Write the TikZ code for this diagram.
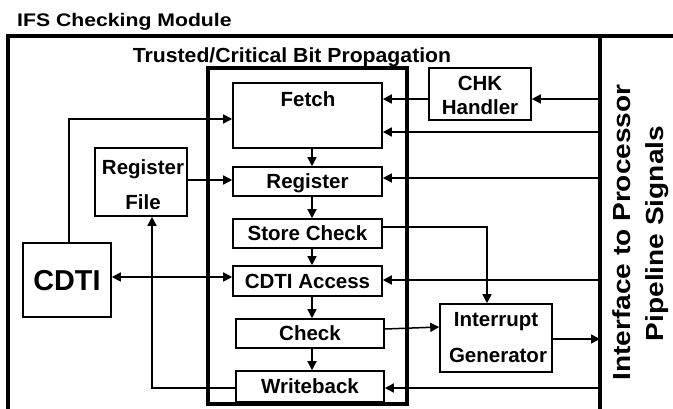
\documentclass[tikz,border=0pt]{standalone}
\usepackage{fontspec}
\usepackage{graphicx}
\setmainfont{Liberation Sans}
\usetikzlibrary{arrows.meta}
\begin{document}
\begin{tikzpicture}[x=1pt,y=-1pt,
  box/.style={draw, line width=1.6pt, inner sep=0pt, font=\bfseries\fontsize{20.5}{24}\selectfont, text height=14.7pt, text depth=0pt},
  lbl/.style={inner sep=0pt, anchor=base, font=\bfseries\fontsize{20.5}{24}\selectfont},
  arr/.style={line width=1.5pt, -{Triangle[length=9pt,width=9pt]}},
  darr/.style={line width=1.5pt, {Triangle[length=9pt,width=9pt]}-{Triangle[length=9pt,width=9pt]}},
  thick box/.style={line width=3.2pt}]
\useasboundingbox (0,0) rectangle (673,408);
\clip (0,0) rectangle (673,408);
% outer module
\draw[thick box] (8,420) -- (8,36) -- (680,36);
\draw[thick box] (600,36) -- (600,420);
\node[inner sep=0pt, anchor=base west, font=\bfseries\fontsize{18.2}{20}\selectfont] (title) at (17,26.3) {\scalebox{1.165}[1]{IFS Checking Module}};
\node[lbl, font=\bfseries\fontsize{20.4}{24}\selectfont] (tcb) at (292,62) {\scalebox{1.04}[1]{Trusted/Critical Bit Propagation}};
% inner box
\draw[thick box] (208,68) rectangle (407,404);
% pipeline stages
\node[box, minimum width=149, minimum height=65] (fetch) at (307.5,115.5) {};
\node[lbl] (fetchlbl) at (308,106) {Fetch};
\node[box, minimum width=149, minimum height=29] (reg) at (307.5,181.5) {Register};
\node[box, minimum width=149, minimum height=29] (stc) at (307.5,233.5) {Store Check};
\node[box, minimum width=149, minimum height=30] (cacc) at (307.5,281) {CDTI Access};
\node[box, minimum width=148, minimum height=29] (chk) at (310,333.5) {Check};
\node[box, minimum width=148, minimum height=31] (wb) at (310,386.5) {Writeback};
% side blocks
\node[box, minimum width=92, minimum height=68] (rf) at (141,182) {};
\node[lbl] (rf1) at (143,174.3) {Register};
\node[lbl] (rf2) at (143,209) {File};
\node[box, minimum width=88, minimum height=74, font=\bfseries\fontsize{28.8}{32}\selectfont, text height=20.6pt] (cdti) at (67,280) {CDTI};
\node[box, minimum width=102, minimum height=52] (chkh) at (480,94) {};
\node[lbl] (chkh1) at (480,90) {CHK};
\node[lbl] (chkh2) at (480,114.3) {Handler};
\node[box, minimum width=112, minimum height=68] (intg) at (496,338) {};
\node[lbl] (intg1) at (496,326) {Interrupt};
\node[lbl] (intg2) at (498,362.7) {Generator};
% interface text
\node[lbl, rotate=90, font=\bfseries\fontsize{24.7}{28}\selectfont] (iface1) at (630,232.5) {\scalebox{1.135}[1]{Interface to Processor}};
\node[lbl, rotate=90, font=\bfseries\fontsize{24.7}{28}\selectfont] (iface2) at (663,233.5) {\scalebox{1.135}[1]{Pipeline Signals}};
% interface coordinates
\coordinate (i1) at (600,99);
\coordinate (i2) at (600,132);
\coordinate (i3) at (600,178);
\coordinate (i4) at (600,280);
\coordinate (i5) at (600,388);
\coordinate (i6) at (600,339);
% pipeline flow
\foreach \a/\b in {fetch/reg, reg/stc, stc/cacc, cacc/chk, chk/wb}
  \draw[arr] (\a.south -| 312,0) -- (\b.north -| 312,0);
% connectors
\draw[arr] (cdti.north -| 69,0) |- (fetch.west |- 0,119);
\draw[arr] (rf.east |- 0,180) -- (reg.west |- 0,180);
\draw[darr] (cdti.east |- 0,277) -- (cacc.west |- 0,277);
\draw[arr] (wb.west |- 0,388) -| (rf.south -| 152,0);
\draw[arr] (i1) -- (chkh.east |- i1);
\draw[arr] (chkh.west |- i1) -- (fetch.east |- i1);
\draw[arr] (i2) -- (fetch.east |- i2);
\draw[arr] (i3) -- (reg.east |- i3);
\draw[arr] (i4) -- (cacc.east |- i4);
\draw[arr] (i5) -- (wb.east |- i5);
\draw[arr] (stc.east |- 0,227) -| (intg.north -| 487,0);
\draw[arr] (chk.east |- 0,329) -- (intg.west |- 0,327);
\draw[arr] (intg.east |- i6) -- (i6);
\end{tikzpicture}
\end{document}
